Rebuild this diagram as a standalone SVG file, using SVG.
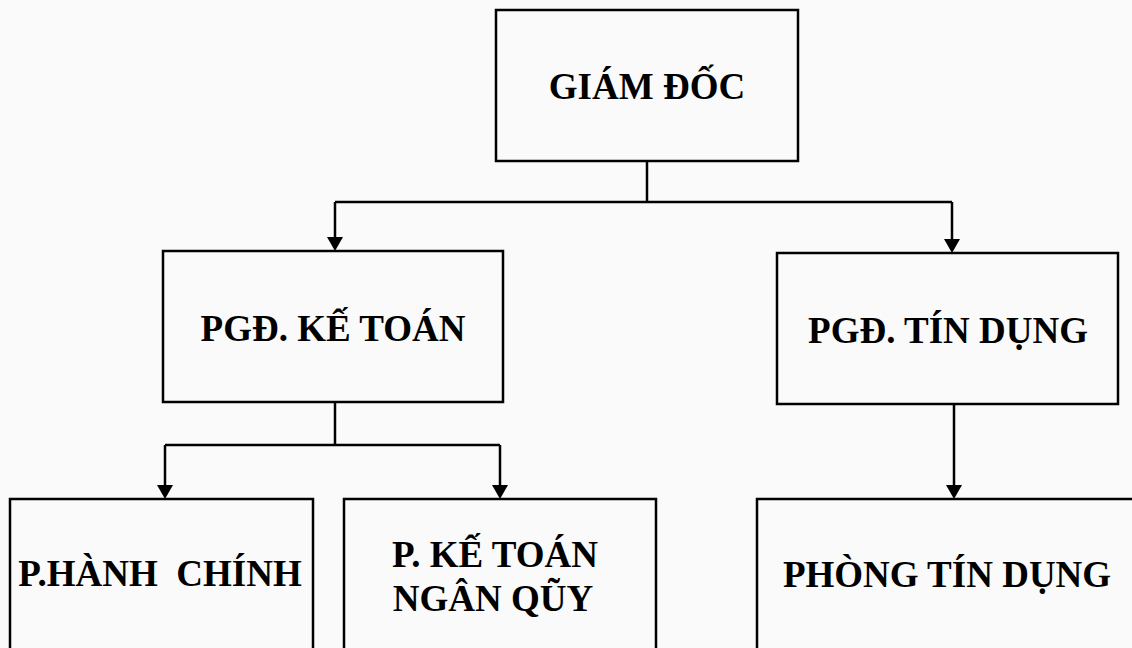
<svg xmlns="http://www.w3.org/2000/svg" width="1132" height="648" viewBox="0 0 1132 648">
  <style>
    .box { fill: #fafafa; stroke: #000; stroke-width: 2.5; }
    .lbl { font-family: Liberation Serif, Times New Roman, Tinos, serif; font-weight: 700; font-size: 37px; fill: #000; text-anchor: middle; }
    .wire { fill: none; stroke: #000; stroke-width: 2.5; }
  </style>
  <rect width="1132" height="648" fill="#fafafa"/>

  <g id="connectors">
    <path class="wire" d="M647,161 V202"/>
    <path class="wire" d="M335,202 H952"/>
    <path class="wire" d="M335,202 V237"/>
    <path d="M327,237 L343,237 L335,251 Z" fill="#000"/>
    <path class="wire" d="M952,202 V239"/>
    <path d="M944,239 L960,239 L952,253 Z" fill="#000"/>
    <path class="wire" d="M335,402 V445"/>
    <path class="wire" d="M165,445 H500"/>
    <path class="wire" d="M165,445 V485"/>
    <path d="M157,485 L173,485 L165,499 Z" fill="#000"/>
    <path class="wire" d="M500,445 V485"/>
    <path d="M492,485 L508,485 L500,499 Z" fill="#000"/>
    <path class="wire" d="M954,404 V485"/>
    <path d="M946,485 L962,485 L954,499 Z" fill="#000"/>
  </g>

  <g id="giam-doc">
    <rect class="box" x="496" y="10" width="302" height="151"/>
    <text class="lbl" x="647" y="99">GIÁM ĐỐC</text>
  </g>

  <g id="pgd-ke-toan">
    <rect class="box" x="163" y="251" width="340" height="151"/>
    <text class="lbl" x="333" y="341">PGĐ. KẾ TOÁN</text>
  </g>

  <g id="pgd-tin-dung">
    <rect class="box" x="777" y="253" width="341" height="151"/>
    <text class="lbl" x="948" y="343">PGĐ. TÍN DỤNG</text>
  </g>

  <g id="p-hanh-chinh">
    <rect class="box" x="10" y="499" width="303" height="170"/>
    <text class="lbl" x="160" y="586" xml:space="preserve">P.HÀNH  CHÍNH</text>
  </g>

  <g id="p-ke-toan-ngan-quy">
    <rect class="box" x="344" y="499" width="312" height="170"/>
    <text class="lbl" x="495" y="567">P. KẾ TOÁN</text>
    <text class="lbl" x="493" y="611">NGÂN QŨY</text>
  </g>

  <g id="phong-tin-dung">
    <rect class="box" x="757" y="499" width="400" height="170"/>
    <text class="lbl" x="947" y="587">PHÒNG TÍN DỤNG</text>
  </g>
</svg>
